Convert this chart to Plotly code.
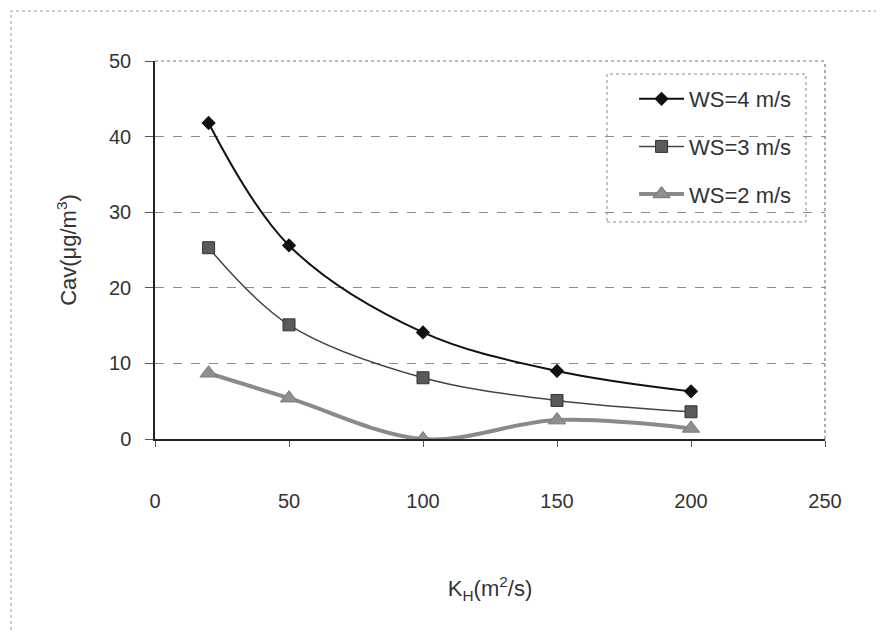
import plotly.graph_objects as go

# ---- data ----
kh = [20, 50, 100, 150, 200]
ws4 = [41.8, 25.6, 14.1, 9.0, 6.3]
ws3 = [25.3, 15.1, 8.1, 5.1, 3.6]
ws2 = [8.7, 5.4, 0.0, 2.5, 1.4]
series_names = ["WS=4 m/s", "WS=3 m/s", "WS=2 m/s"]
x_ticks = [0, 50, 100, 150, 200, 250]
y_ticks = [0, 10, 20, 30, 40, 50]

FONT = "Liberation Sans, Arial, sans-serif"

fig = go.Figure()
fig.add_trace(go.Scatter(
    x=kh, y=ws4, name=series_names[0], legendgroup="a",
    mode="lines+markers", line=dict(color="#111111", width=2, shape="spline", smoothing=1),
    marker=dict(symbol="diamond", size=11, color="#111111"),
))
fig.add_trace(go.Scatter(
    x=kh, y=ws3, name=series_names[1], legendgroup="b",
    mode="lines+markers", line=dict(color="#444444", width=1.5, shape="spline", smoothing=1),
    marker=dict(symbol="square", size=12, color="#5a5a5a", line=dict(color="#333333", width=1)),
))
fig.add_trace(go.Scatter(
    x=kh, y=ws2, name=series_names[2], legendgroup="c",
    mode="lines+markers", line=dict(color="#8a8a8a", width=4, shape="spline", smoothing=1),
    marker=dict(symbol="triangle-up", size=15, color="#8f8f8f", line=dict(color="#777777", width=1)),
))

# page has an 8px body margin, so the figure is offset by 8px
OFF = 8
L, R, T, B = 155 - OFF, 59, 61 - OFF, 193
PW, PH = 670, 378

fig.update_layout(
    width=884 - OFF, height=632 - OFF,
    margin=dict(l=L, r=R, t=T, b=B, autoexpand=False),
    paper_bgcolor="white", plot_bgcolor="white",
    font=dict(family=FONT, size=20, color="#333333"),
    showlegend=True,
    legend=dict(
        x=0.715, y=0.955, xanchor="left", yanchor="top",
        bgcolor="rgba(0,0,0,0)", borderwidth=0,
        font=dict(family=FONT, size=22, color="#333333"),
        tracegroupgap=16, itemwidth=45,
    ),
    xaxis=dict(
        range=[0, 250], tickvals=x_ticks, ticktext=[str(v) for v in x_ticks],
        showgrid=False, zeroline=False,
        showline=True, linecolor="#222222", linewidth=1.5,
        ticks="outside", ticklen=6, tickcolor="#555555",
        ticklabelstandoff=37,
        title=dict(text="K<sub>H</sub>(m<sup>2</sup>/s)", standoff=70,
                   font=dict(family=FONT, size=22, color="#333333")),
        automargin=False,
    ),
    yaxis=dict(
        range=[0, 50], tickvals=y_ticks, ticktext=[str(v) for v in y_ticks],
        showgrid=True, gridcolor="#8c8c8c", griddash="dash", gridwidth=1,
        zeroline=False,
        showline=True, linecolor="#222222", linewidth=1.5,
        ticks="outside", ticklen=8, tickcolor="#555555",
        ticklabelstandoff=10,
        title=dict(text="Cav(μg/m<sup>3</sup>)", standoff=26,
                   font=dict(family=FONT, size=22, color="#333333")),
        automargin=False,
    ),
    shapes=[
        # plot area top and right border
        dict(type="line", xref="paper", yref="paper", x0=0, x1=1, y0=1, y1=1,
             line=dict(color="#777777", width=1.2, dash="dot")),
        dict(type="line", xref="paper", yref="paper", x0=1, x1=1, y0=0, y1=1,
             line=dict(color="#777777", width=1.2, dash="dot")),
        # legend box
        dict(type="rect", xref="paper", yref="paper",
             x0=(607 - 155) / PW, x1=(806 - 155) / PW,
             y0=(439 - 222) / PH, y1=(439 - 74) / PH,
             line=dict(color="#888888", width=1, dash="dot"), fillcolor="rgba(0,0,0,0)"),
        # outer chart border
        dict(type="rect", xref="paper", yref="paper",
             x0=(11 - 155) / PW, x1=(895 - 155) / PW,
             y0=(439 - 645) / PH, y1=(439 - 11) / PH,
             line=dict(color="#999999", width=1, dash="dot"), fillcolor="rgba(0,0,0,0)"),
    ],
)

fig.write_html("out.html")
